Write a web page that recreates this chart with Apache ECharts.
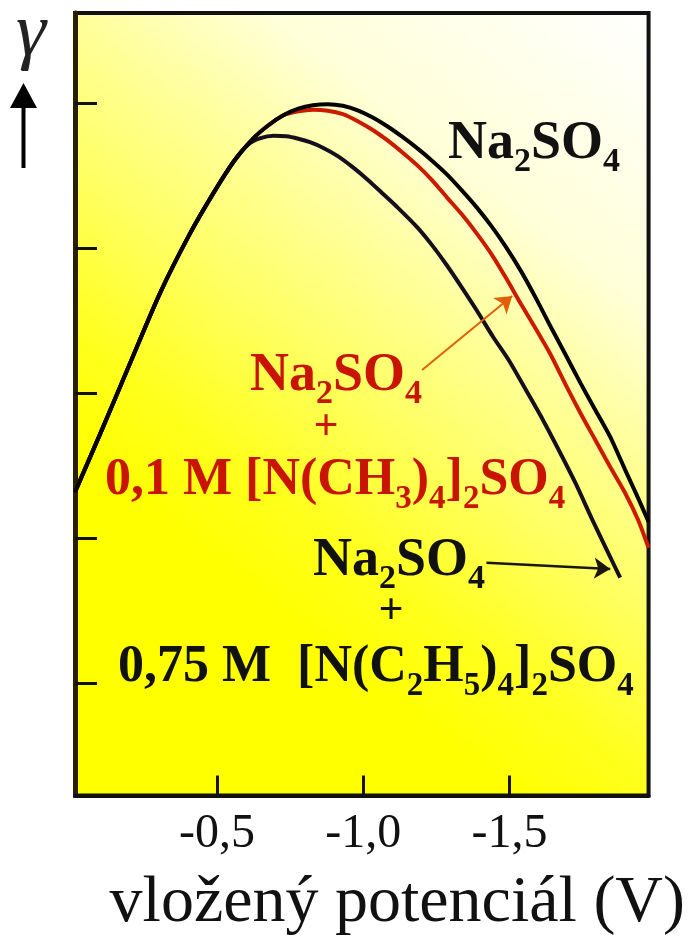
<!DOCTYPE html>
<html>
<head>
<meta charset="utf-8">
<script src="https://cdn.jsdelivr.net/npm/echarts@6/dist/echarts.min.js"></script>
<style>
  html, body { margin: 0; padding: 0; background: #ffffff; }
  #chart { width: 688px; height: 944px; }
</style>
</head>
<body>
<div id="chart"></div>
<script>
// Electrocapillary curves: surface tension γ against the applied potential (V)

// Na2SO4 alone
const naPot = [-0.015, -0.101, -0.202, -0.304, -0.405, -0.490, -0.558, -0.625, -0.676, -0.727,
  -0.778, -0.828, -0.879, -0.930, -0.981, -1.031, -1.082, -1.133, -1.184, -1.235,
  -1.285, -1.336, -1.387, -1.438, -1.488, -1.539, -1.590, -1.641, -1.692, -1.742,
  -1.793, -1.844, -1.895, -1.939, -1.975];
const naGamma = [2.320, 2.721, 3.202, 3.684, 4.090, 4.386, 4.599, 4.758, 4.847, 4.916,
  4.961, 4.985, 4.992, 4.981, 4.950, 4.902, 4.840, 4.768, 4.689, 4.603,
  4.510, 4.400, 4.283, 4.152, 4.007, 3.842, 3.656, 3.457, 3.264, 3.072,
  2.886, 2.700, 2.473, 2.280, 2.115];

// Na2SO4 + 0,1 M [N(CH3)4]2SO4
const tmaPot = [-0.015, -0.101, -0.202, -0.304, -0.405, -0.490, -0.558, -0.625, -0.676, -0.727,
  -0.778, -0.828, -0.879, -0.930, -0.981, -1.031, -1.082, -1.133, -1.184, -1.235,
  -1.285, -1.336, -1.387, -1.438, -1.488, -1.539, -1.590, -1.641, -1.692, -1.742,
  -1.793, -1.844, -1.895, -1.939, -1.975];
const tmaGamma = [2.320, 2.721, 3.202, 3.684, 4.090, 4.386, 4.599, 4.758, 4.847, 4.916,
  4.943, 4.954, 4.947, 4.923, 4.875, 4.816, 4.744, 4.661, 4.572, 4.469,
  4.352, 4.235, 4.104, 3.959, 3.794, 3.615, 3.443, 3.264, 3.058, 2.865,
  2.679, 2.493, 2.314, 2.129, 1.936];

// Na2SO4 + 0,75 M [N(C2H5)4]2SO4
const teaPot = [-0.015, -0.101, -0.202, -0.304, -0.405, -0.490, -0.558, -0.608, -0.649, -0.693,
  -0.737, -0.778, -0.818, -0.862, -0.913, -0.964, -1.015, -1.065, -1.116, -1.184,
  -1.235, -1.285, -1.336, -1.387, -1.444, -1.499, -1.556, -1.614, -1.668, -1.725,
  -1.783, -1.837, -1.878];
const teaGamma = [2.320, 2.721, 3.202, 3.684, 4.090, 4.386, 4.599, 4.716, 4.758, 4.775,
  4.771, 4.754, 4.730, 4.692, 4.634, 4.558, 4.472, 4.379, 4.283, 4.145,
  4.021, 3.884, 3.732, 3.574, 3.388, 3.223, 3.023, 2.817, 2.610, 2.383,
  2.129, 1.902, 1.730];

// axis ticks
const potTicks = [-0.5, -1.0, -1.5];
const gammaTicks = [1, 2, 3, 4, 5];

// pointer arrows from the labels to their curves: [from, to] in (V, γ)
const tmaArrow = [[-1.201, 3.161], [-1.509, 3.670]];
const teaArrow = [[-1.421, 1.833], [-1.844, 1.791]];

const serif = '"Liberation Serif", "Times New Roman", serif';
const zip = (xs, ys) => xs.map((x, i) => [x, ys[i]]);

function chemRich(color, size, sub, shift) {
  return {
    b: { fontFamily: serif, fontWeight: 'bold', fontSize: size, fill: color, lineHeight: 64 },
    s: { fontFamily: serif, fontWeight: 'bold', fontSize: sub, fill: color, lineHeight: 64, padding: [shift, 0, 0, 0] }
  };
}

function label(text, x, y, color, size, sub) {
  return {
    type: 'text', x: x, y: y, z: 20, silent: true,
    style: { text: text, rich: chemRich(color, size, sub, 37), align: 'left', verticalAlign: 'middle' }
  };
}

function plus(x, y, color) {
  return {
    type: 'text', x: x, y: y, z: 20, silent: true,
    style: { text: '+', fill: color, font: 'bold 44px ' + serif, align: 'center', verticalAlign: 'middle' }
  };
}

const red = '#c81400';
const ink = '#111111';

const chart = echarts.init(document.getElementById('chart'), null, { renderer: 'canvas' });

chart.setOption({
  backgroundColor: '#ffffff',
  animation: false,
  grid: {
    left: 75, right: 34, top: 13, bottom: 148.5,
    show: true,
    borderColor: '#111111',
    borderWidth: 4,
    backgroundColor: new echarts.graphic.LinearGradient(1, 0, 0.15, 0.8, [
      { offset: 0, color: '#ffffff' },
      { offset: 0.3, color: '#ffffd8' },
      { offset: 0.45, color: '#ffff9a' },
      { offset: 0.6, color: '#ffff62' },
      { offset: 0.76, color: '#ffff1e' },
      { offset: 0.88, color: '#ffff00' },
      { offset: 1, color: '#ffff00' }
    ])
  },
  xAxis: {
    type: 'value',
    inverse: true,
    min: -1.975,
    max: -0.015,
    name: 'vložený potenciál (V)',
    nameLocation: 'middle',
    nameGap: 75,
    nameTextStyle: { fontFamily: serif, fontSize: 66, color: ink, padding: [0, 0, 0, 71] },
    axisLine: { show: true, onZero: false, lineStyle: { color: '#111111', width: 4 } },
    axisTick: { show: true, inside: true, length: 20, customValues: potTicks, lineStyle: { color: '#1a1200', width: 3 } },
    axisLabel: {
      show: true, customValues: potTicks, margin: 15,
      fontFamily: serif, fontSize: 48, color: ink,
      formatter: v => v.toFixed(1).replace('.', ',')
    },
    splitLine: { show: false }
  },
  yAxis: {
    type: 'value',
    min: 0.23,
    max: 5.62,
    axisLine: { show: true, onZero: false, lineStyle: { color: '#2a2000', width: 5 } },
    axisTick: { show: true, inside: true, length: 22, customValues: gammaTicks, lineStyle: { color: '#111111', width: 3 } },
    axisLabel: { show: false },
    splitLine: { show: false }
  },
  series: [
    {
      name: 'Na2SO4 + 0,1 M [N(CH3)4]2SO4',
      type: 'line', symbol: 'none', smooth: 0.25, z: 2,
      data: zip(tmaPot, tmaGamma),
      lineStyle: { color: '#cc1a00', width: 4 },
      markLine: {
        silent: true, symbol: ['none', 'arrow'], symbolSize: 16,
        label: { show: false },
        lineStyle: { color: '#e0600a', width: 2, type: 'solid' },
        itemStyle: { color: '#d01800' },
        data: [[{ coord: tmaArrow[0] }, { coord: tmaArrow[1] }]]
      }
    },
    {
      name: 'Na2SO4 + 0,75 M [N(C2H5)4]2SO4',
      type: 'line', symbol: 'none', smooth: 0.25, z: 3,
      data: zip(teaPot, teaGamma),
      lineStyle: { color: '#16101e', width: 4 },
      markLine: {
        silent: true, symbol: ['none', 'arrow'], symbolSize: 16,
        label: { show: false },
        lineStyle: { color: '#1a1608', width: 2.5, type: 'solid' },
        itemStyle: { color: '#100a20' },
        data: [[{ coord: teaArrow[0] }, { coord: teaArrow[1] }]]
      }
    },
    {
      name: 'Na2SO4',
      type: 'line', symbol: 'none', smooth: 0.25, z: 4,
      data: zip(naPot, naGamma),
      lineStyle: { color: '#050300', width: 4 }
    }
  ],
  graphic: [
    // γ with an upward arrow beside the vertical axis
    {
      type: 'text', x: 31, y: 35, silent: true,
      style: { text: 'γ', fill: '#222222', font: 'italic 76px ' + serif, align: 'center', verticalAlign: 'middle' }
    },
    { type: 'polygon', silent: true, shape: { points: [[10, 108], [23.5, 83], [37, 108]] }, style: { fill: '#000000' } },
    { type: 'line', silent: true, shape: { x1: 23.5, y1: 104, x2: 23.5, y2: 168 }, style: { stroke: '#000000', lineWidth: 4 } },

    label('{b|Na}{s|2}{b|SO}{s|4}', 448, 144, ink, 54, 34),

    label('{b|Na}{s|2}{b|SO}{s|4}', 250, 376, red, 54, 34),
    plus(326, 428, red),
    label('{b|0,1 M [N(CH}{s|3}{b|)}{s|4}{b|]}{s|2}{b|SO}{s|4}', 105, 481, red, 52, 33),

    label('{b|Na}{s|2}{b|SO}{s|4}', 313, 561, ink, 54, 34),
    plus(391, 612, ink),
    label('{b|0,75 M  [N(C}{s|2}{b|H}{s|5}{b|)}{s|4}{b|]}{s|2}{b|SO}{s|4}', 118, 668, ink, 52, 33)
  ]
});
</script>
</body>
</html>
